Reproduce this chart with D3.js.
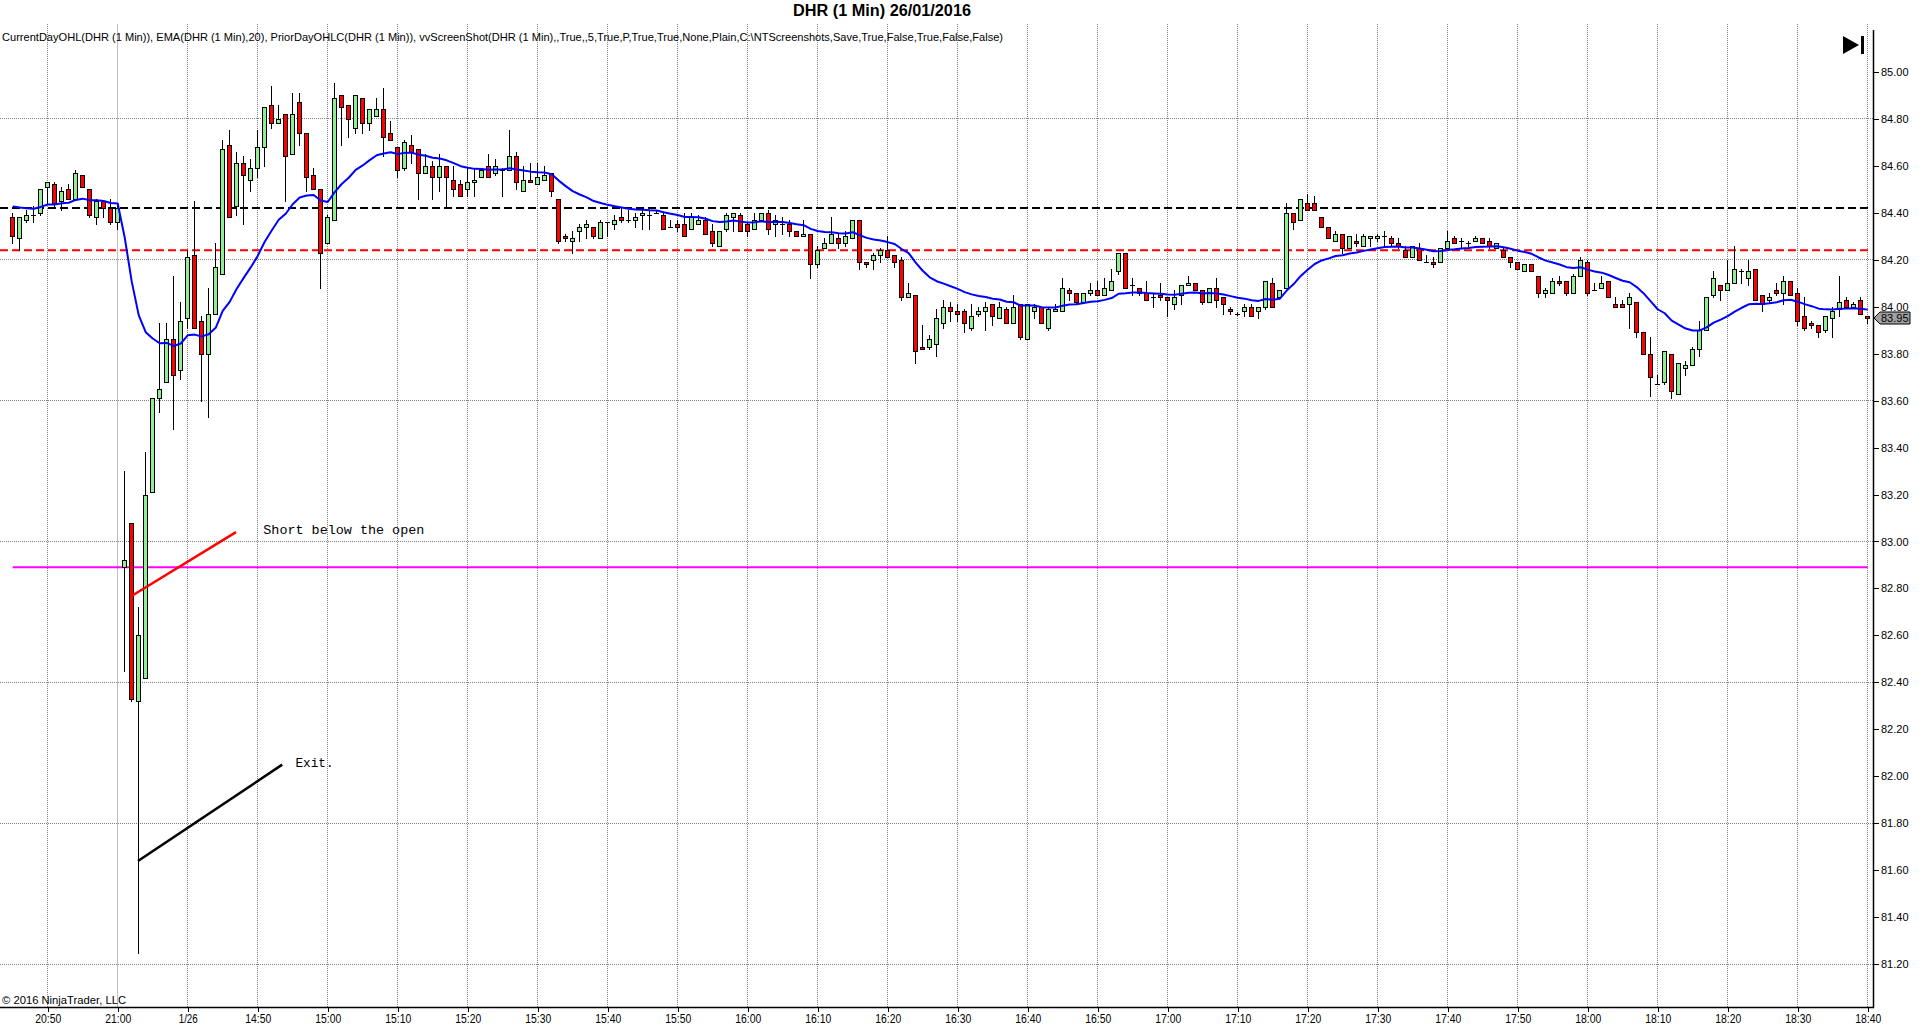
<!DOCTYPE html>
<html><head><meta charset="utf-8">
<script src="https://cdn.jsdelivr.net/npm/d3@7/dist/d3.min.js"></script>
<style>body{margin:0;background:#fff;overflow:hidden}svg{display:block}</style>
</head><body><svg id="c" width="1920" height="1034"></svg>
<script>
// ---- bar times (two sessions: prior day close, then 26/01) ----
function minuteRange(h0, m0, h1, m1) {
  const out = [];
  for (let t = h0 * 60 + m0; t <= h1 * 60 + m1; t++) {
    out.push(String(Math.floor(t / 60)).padStart(2, "0") + ":" + String(t % 60).padStart(2, "0"));
  }
  return out;
}
const times = minuteRange(20, 45, 21, 0).concat(minuteRange(14, 31, 18, 40));

// ---- OHLC values ----
const opens = [84.38,84.29,84.37,84.39,84.40,84.51,84.52,84.45,84.50,84.46,84.56,84.50,84.38,84.45,84.42,84.36,
82.89,83.08,82.32,82.42,83.21,83.61,83.68,83.86,83.73,83.95,84.22,83.94,83.80,83.97,84.14,84.69,84.43,84.61,84.54,84.59,84.68,84.86,84.78,84.82,
84.65,84.87,84.74,84.56,84.50,84.27,84.37,84.90,84.86,84.76,84.89,84.78,84.81,84.84,84.74,84.68,84.59,84.69,84.67,84.57,
84.60,84.55,84.60,84.54,84.52,84.50,84.53,84.55,84.60,84.57,84.58,84.58,84.64,84.49,84.54,84.52,84.54,84.57,84.46,84.30,
84.28,84.32,84.34,84.34,84.29,84.36,84.35,84.38,84.37,84.37,84.39,84.39,84.40,84.39,84.34,84.35,84.35,84.33,84.35,84.37,
84.32,84.26,84.33,84.38,84.39,84.35,84.33,84.37,84.40,84.35,84.35,84.35,84.32,84.30,84.31,84.18,84.25,84.27,84.29,84.27,
84.29,84.37,84.19,84.20,84.22,84.24,84.22,84.20,84.04,84.05,83.83,83.83,83.84,83.93,84.00,83.98,83.98,83.91,83.97,83.98,
84.01,83.95,83.99,83.93,84.01,83.86,83.98,84.00,83.91,83.98,83.98,84.07,84.06,84.02,84.06,84.07,84.05,84.07,84.15,84.23,
84.09,84.08,84.06,84.04,84.05,84.04,84.01,84.05,84.09,84.10,84.07,84.02,84.08,84.04,83.99,83.97,83.98,84.00,83.98,84.00,
84.10,84.04,84.08,84.40,84.37,84.44,84.44,84.38,84.34,84.28,84.31,84.25,84.28,84.26,84.29,84.29,84.30,84.29,84.27,84.24,
84.21,84.25,84.19,84.19,84.19,84.25,84.29,84.28,84.27,84.28,84.29,84.28,84.25,84.24,84.21,84.19,84.15,84.18,84.13,84.06,
84.06,84.11,84.11,84.06,84.13,84.19,84.07,84.08,84.11,84.01,84.01,84.01,84.02,83.89,83.80,83.67,83.68,83.80,83.63,83.74,
83.75,83.82,83.90,84.05,84.09,84.07,84.10,84.15,84.12,84.16,84.05,84.03,84.07,84.06,84.11,84.06,83.96,83.93,83.92,83.90,
83.95,83.99,84.03,84.00,84.03,83.96];
const highs = [84.40,84.38,84.41,84.43,84.50,84.53,84.53,84.51,84.52,84.58,84.56,84.50,84.46,84.45,84.46,84.44,
83.30,83.08,82.72,83.38,83.61,83.93,83.93,84.13,84.02,84.24,84.45,83.96,84.08,84.27,84.71,84.75,84.66,84.64,84.63,84.75,84.85,84.94,84.86,84.82,
84.91,84.91,84.74,84.59,84.50,84.39,84.95,84.90,84.86,84.90,84.89,84.84,84.89,84.93,84.79,84.68,84.71,84.73,84.67,84.65,
84.62,84.65,84.60,84.60,84.54,84.59,84.59,84.58,84.65,84.63,84.59,84.75,84.66,84.60,84.61,84.61,84.60,84.57,84.46,84.31,
84.32,84.35,84.37,84.34,84.37,84.36,84.39,84.42,84.41,84.40,84.41,84.41,84.41,84.40,84.37,84.37,84.40,84.40,84.39,84.38,
84.35,84.32,84.40,84.40,84.40,84.36,84.40,84.40,84.41,84.39,84.38,84.37,84.32,84.37,84.31,84.26,84.29,84.38,84.31,84.32,
84.37,84.37,84.19,84.23,84.25,84.30,84.22,84.21,84.10,84.05,83.92,83.88,83.99,84.03,84.02,84.01,83.99,84.01,84.00,84.02,
84.01,84.02,84.00,84.05,84.01,84.01,84.01,84.00,84.00,84.01,84.12,84.08,84.06,84.06,84.10,84.11,84.12,84.16,84.23,84.23,
84.12,84.08,84.11,84.06,84.10,84.04,84.07,84.09,84.13,84.10,84.07,84.08,84.12,84.04,84.00,83.975,84.01,84.01,84.00,84.11,
84.12,84.07,84.44,84.40,84.46,84.48,84.47,84.38,84.34,84.32,84.31,84.30,84.31,84.31,84.30,84.31,84.32,84.30,84.29,84.26,
84.26,84.27,84.22,84.21,84.25,84.32,84.30,84.29,84.28,84.30,84.29,84.29,84.27,84.25,84.21,84.19,84.18,84.18,84.13,84.08,
84.12,84.13,84.11,84.14,84.21,84.20,84.10,84.13,84.11,84.04,84.03,84.06,84.02,83.89,83.87,83.71,83.81,83.80,83.76,83.77,
83.83,83.94,84.04,84.15,84.09,84.20,84.26,84.16,84.20,84.16,84.05,84.06,84.10,84.13,84.11,84.08,84.04,83.94,83.92,83.96,
84.00,84.13,84.04,84.02,84.04,83.96];
const lows = [84.27,84.24,84.36,84.36,84.39,84.44,84.42,84.41,84.46,84.46,84.51,84.38,84.35,84.38,84.35,84.33,
82.45,82.32,81.25,82.42,83.21,83.55,83.68,83.48,83.69,83.91,83.91,83.60,83.53,83.97,84.14,84.38,84.39,84.35,84.49,84.55,84.60,84.76,84.78,84.45,
84.65,84.69,84.49,84.50,84.08,84.27,84.37,84.69,84.72,84.74,84.74,84.75,84.81,84.64,84.71,84.55,84.58,84.61,84.46,84.57,
84.46,84.49,84.42,84.47,84.47,84.47,84.47,84.55,84.55,84.56,84.47,84.58,84.50,84.49,84.53,84.52,84.54,84.47,84.27,84.28,
84.23,84.28,84.29,84.29,84.29,84.30,84.33,84.36,84.36,84.34,84.33,84.33,84.40,84.33,84.34,84.32,84.30,84.33,84.35,84.31,
84.26,84.26,84.32,84.32,84.32,84.30,84.33,84.37,84.31,84.30,84.31,84.30,84.30,84.30,84.12,84.17,84.25,84.27,84.25,84.26,
84.29,84.16,84.17,84.16,84.19,84.21,84.17,84.03,84.04,83.76,83.82,83.82,83.79,83.91,83.94,83.94,83.89,83.90,83.96,83.90,
83.92,83.95,83.93,83.93,83.86,83.86,83.95,83.93,83.90,83.98,83.98,84.03,84.01,84.02,84.05,84.05,84.05,84.07,84.14,84.08,
84.05,84.05,84.03,84.00,84.03,83.96,83.99,84.01,84.09,84.07,84.01,84.02,84.00,83.97,83.97,83.965,83.96,83.96,83.95,83.99,
84.00,84.04,84.08,84.33,84.37,84.41,84.41,84.34,84.29,84.28,84.23,84.25,84.26,84.26,84.26,84.28,84.26,84.26,84.25,84.21,
84.21,84.20,84.19,84.17,84.19,84.25,84.27,84.25,84.26,84.28,84.27,84.25,84.25,84.21,84.17,84.16,84.15,84.15,84.04,84.04,
84.06,84.09,84.05,84.06,84.13,84.05,84.07,84.08,84.04,84.00,84.00,83.91,83.87,83.80,83.62,83.67,83.67,83.61,83.63,83.71,
83.75,83.79,83.90,84.04,84.03,84.07,84.10,84.10,84.09,84.03,83.98,84.02,84.05,84.01,84.05,83.92,83.90,83.91,83.87,83.89,
83.87,83.96,84.00,84.00,83.97,83.93];
const closes = [84.30,84.38,84.39,84.39,84.50,84.53,84.44,84.49,84.46,84.57,84.51,84.39,84.45,84.42,84.36,84.42,
82.92,82.33,82.60,83.20,83.61,83.65,83.86,83.71,83.94,84.21,83.91,83.80,83.97,84.17,84.67,84.38,84.61,84.56,84.59,84.68,84.85,84.78,84.80,84.64,
84.82,84.74,84.55,84.50,84.23,84.38,84.89,84.85,84.80,84.90,84.78,84.84,84.84,84.72,84.71,84.58,84.70,84.66,84.57,84.60,
84.55,84.60,84.55,84.50,84.47,84.53,84.54,84.58,84.55,84.60,84.58,84.64,84.53,84.54,84.53,84.55,84.56,84.49,84.28,84.29,
84.29,84.34,84.35,84.30,84.36,84.36,84.37,84.37,84.37,84.38,84.40,84.39,84.40,84.33,84.34,84.34,84.30,84.38,84.37,84.31,
84.27,84.32,84.39,84.40,84.32,84.32,84.37,84.40,84.33,84.37,84.35,84.32,84.30,84.31,84.18,84.24,84.27,84.31,84.27,84.30,
84.37,84.19,84.18,84.22,84.24,84.21,84.19,84.04,84.06,83.81,83.82,83.86,83.95,84.00,83.98,83.97,83.93,83.96,83.98,84.00,
83.96,84.00,83.93,84.00,83.87,84.01,84.00,83.93,83.99,83.99,84.08,84.06,84.02,84.06,84.07,84.05,84.08,84.11,84.23,84.08,
84.09,84.06,84.03,84.04,84.04,84.03,84.04,84.09,84.10,84.07,84.02,84.08,84.03,84.01,83.98,83.97,84.00,83.96,84.00,84.11,
84.00,84.07,84.40,84.36,84.46,84.41,84.41,84.34,84.29,84.31,84.25,84.30,84.27,84.30,84.30,84.30,84.30,84.27,84.26,84.21,
84.26,84.20,84.19,84.18,84.25,84.28,84.27,84.28,84.27,84.29,84.27,84.26,84.27,84.21,84.19,84.16,84.18,84.15,84.06,84.07,
84.11,84.10,84.06,84.13,84.20,84.06,84.07,84.10,84.04,84.00,84.00,84.04,83.89,83.80,83.70,83.67,83.81,83.64,83.76,83.75,
83.82,83.90,84.04,84.12,84.07,84.10,84.16,84.15,84.15,84.03,84.01,84.04,84.06,84.11,84.05,83.94,83.91,83.92,83.89,83.96,
83.98,84.02,84.00,84.01,83.97,83.95];

// ---- axis ticks / labels ----
const tickTimes  = ["20:50","21:00","14:40","14:50","15:00","15:10","15:20","15:30","15:40","15:50","16:00","16:10","16:20","16:30",
                    "16:40","16:50","17:00","17:10","17:20","17:30","17:40","17:50","18:00","18:10","18:20","18:30","18:40"];
const tickLabels = ["20:50","21:00","1/26","14:50","15:00","15:10","15:20","15:30","15:40","15:50","16:00","16:10","16:20","16:30",
                    "16:40","16:50","17:00","17:10","17:20","17:30","17:40","17:50","18:00","18:10","18:20","18:30","18:40"];
const sessionBreakTime = "21:00";
const priceTicks = [81.2,81.4,81.6,81.8,82.0,82.2,82.4,82.6,82.8,83.0,83.2,83.4,83.6,83.8,84.0,84.2,84.4,84.6,84.8,85.0];
const priceGrid  = [81.2,81.8,82.4,83.0,83.6,84.2,84.8];

// ---- indicator levels ----
const priorDayLevelBlack = 84.42;
const priorDayLevelRed = 84.24;
const currentDayOpen = 82.89;
const lastPrice = 83.95;
const emaPeriod = 20;
const emaStartValue = 84.44;

// ---- drawn annotations (bar index, price) ----
const annotationLines = [
  {from: [17.1, 82.77], to: [31.9, 83.04], color: "#ff0000"},
  {from: [17.9, 81.64], to: [38.5, 82.05], color: "#000000"}
];
const annotationTexts = [
  {at: [35.8, 83.03], text: "Short below the open", width: 161},
  {at: [40.4, 82.04], text: "Exit.", width: 38}
];

// ------------------------------------------------------------------
const axisX = 1873, axisBottom = 1007, plotTop = 24;
const svg = d3.select("#c");
const n = times.length;

const x = d3.scaleLinear().domain([0, n - 1]).range([12.7, 1867.7]);
const xt = d3.scalePoint().domain(times).range([12.7, 1867.7]);
const y = d3.scaleLinear().domain([81.2, 85.0]).range([964.3, 71.7]);
const px = v => Math.floor(v) + 0.5;

// EMA(20) of the closes
const alpha = 2 / (emaPeriod + 1);
const ema = [];
let prev = emaStartValue;
closes.forEach(c => { prev = prev + alpha * (c - prev); ema.push(prev); });

// grid
const g = svg.append("g");
g.selectAll(".hg").data(priceGrid).join("line")
  .attr("x1", 0).attr("x2", axisX).attr("y1", d => px(y(d))).attr("y2", d => px(y(d)))
  .attr("stroke", "#808080").attr("stroke-dasharray", "1,1");
g.selectAll(".vg").data(tickTimes.filter(t => t !== sessionBreakTime)).join("line")
  .attr("x1", d => px(xt(d))).attr("x2", d => px(xt(d))).attr("y1", plotTop).attr("y2", axisBottom)
  .attr("stroke", "#808080").attr("stroke-dasharray", "1,1");
g.append("line").attr("x1", px(xt(sessionBreakTime))).attr("x2", px(xt(sessionBreakTime)))
  .attr("y1", plotTop).attr("y2", axisBottom).attr("stroke", "#c0c0c0");

// level lines
svg.append("line").attr("x1", 0).attr("x2", 1871).attr("y1", y(priorDayLevelBlack)).attr("y2", y(priorDayLevelBlack))
  .attr("stroke", "#000").attr("stroke-width", 2).attr("stroke-dasharray", "8,4");
svg.append("line").attr("x1", 0).attr("x2", 1871).attr("y1", y(priorDayLevelRed)).attr("y2", y(priorDayLevelRed))
  .attr("stroke", "#ff0000").attr("stroke-width", 2).attr("stroke-dasharray", "8,4");
svg.append("line").attr("x1", x(0)).attr("x2", x(n - 1)).attr("y1", y(currentDayOpen)).attr("y2", y(currentDayOpen))
  .attr("stroke", "#ff00ff").attr("stroke-width", 2);

// candles
const bars = times.map((t, i) => ({t, i, o: opens[i], h: highs[i], l: lows[i], c: closes[i]}));
const cg = svg.append("g").attr("shape-rendering", "crispEdges");
cg.selectAll(".wick").data(bars).join("line")
  .attr("x1", d => px(xt(d.t))).attr("x2", d => px(xt(d.t)))
  .attr("y1", d => Math.round(y(d.h))).attr("y2", d => Math.round(y(d.l)) + 1)
  .attr("stroke", "#000");
cg.selectAll(".body").data(bars.filter(d => Math.abs(Math.round(y(d.o)) - Math.round(y(d.c))) >= 1)).join("rect")
  .attr("x", d => Math.floor(xt(d.t)) - 1.5)
  .attr("width", 4)
  .attr("y", d => Math.round(y(Math.max(d.o, d.c))) + 0.5)
  .attr("height", d => Math.round(y(Math.min(d.o, d.c))) - Math.round(y(Math.max(d.o, d.c))))
  .attr("fill", d => d.c >= d.o ? "#90ee90" : "#ff0000")
  .attr("stroke", "#000");
cg.selectAll(".doji").data(bars.filter(d => Math.abs(Math.round(y(d.o)) - Math.round(y(d.c))) < 1)).join("line")
  .attr("x1", d => Math.floor(xt(d.t)) - 2).attr("x2", d => Math.floor(xt(d.t)) + 3)
  .attr("y1", d => Math.round(y(d.c)) + 0.5).attr("y2", d => Math.round(y(d.c)) + 0.5)
  .attr("stroke", "#000");

// EMA line
svg.append("path").datum(ema)
  .attr("d", d3.line().x((d, i) => x(i)).y(d => y(d)))
  .attr("fill", "none").attr("stroke", "#0000ff").attr("stroke-width", 2).attr("stroke-linejoin", "round");

// annotations
svg.selectAll(".ann").data(annotationLines).join("line")
  .attr("x1", d => x(d.from[0])).attr("y1", d => y(d.from[1]))
  .attr("x2", d => x(d.to[0])).attr("y2", d => y(d.to[1]))
  .attr("stroke", d => d.color).attr("stroke-width", 2.5);
svg.selectAll(".annt").data(annotationTexts).join("text")
  .attr("x", d => x(d.at[0])).attr("y", d => y(d.at[1]))
  .attr("font-family", "'Liberation Mono','Courier New',monospace").attr("font-size", 13)
  .attr("textLength", d => d.width).attr("lengthAdjust", "spacingAndGlyphs")
  .attr("fill", "#000").text(d => d.text);

// right axis
const ra = svg.append("g").attr("transform", `translate(${axisX},0)`)
  .call(d3.axisRight(y).tickValues(priceTicks).tickFormat(d3.format(".2f")).tickSize(6).tickSizeOuter(0).tickPadding(2));
ra.select(".domain").remove();
ra.selectAll("text").attr("font-family", "'Liberation Sans',Arial,sans-serif").attr("font-size", 11).attr("fill", "#000");
ra.selectAll(".tick line").attr("stroke", "#000").attr("shape-rendering", "crispEdges");
svg.append("line").attr("x1", axisX + 0.5).attr("x2", axisX + 0.5).attr("y1", 30).attr("y2", axisBottom + 1)
  .attr("stroke", "#000").attr("stroke-width", 1.5);

// bottom axis
const ba = svg.append("g").attr("transform", `translate(0,${axisBottom})`)
  .call(d3.axisBottom(xt).tickValues(tickTimes).tickFormat((d, i) => tickLabels[i]).tickSize(5).tickSizeOuter(0).tickPadding(2));
ba.select(".domain").remove();
ba.selectAll(".tick line").attr("stroke", "#000").attr("shape-rendering", "crispEdges")
  .attr("transform", "translate(0.5,0)");
ba.selectAll("text").attr("font-family", "'Liberation Sans Narrow','Liberation Sans',Arial,sans-serif")
  .attr("font-size", 12).attr("fill", "#000")
  .attr("textLength", function () { return this.textContent.length >= 5 ? 26 : 19; })
  .attr("lengthAdjust", "spacingAndGlyphs");
svg.append("line").attr("x1", 0).attr("x2", axisX + 1).attr("y1", axisBottom + 0.5).attr("y2", axisBottom + 0.5)
  .attr("stroke", "#000").attr("stroke-width", 1.5);

// last price marker
const ly = Math.round(y(lastPrice));
svg.append("path")
  .attr("d", `M${axisX + 1},${ly} L${axisX + 7},${ly - 6} L${axisX + 37},${ly - 6} L${axisX + 37},${ly + 6} L${axisX + 7},${ly + 6} Z`)
  .attr("fill", "#a0a0a0").attr("stroke", "#000");
svg.append("text").attr("x", axisX + 8).attr("y", ly + 4)
  .attr("font-family", "'Liberation Sans',Arial,sans-serif").attr("font-size", 11).attr("fill", "#000")
  .text(d3.format(".2f")(lastPrice));

// play icon
svg.append("path").attr("d", "M1843,36 L1859,45 L1843,54 Z").attr("fill", "#000");
svg.append("rect").attr("x", 1861).attr("y", 36).attr("width", 3).attr("height", 18).attr("fill", "#000");

// texts
svg.append("text").attr("x", 882).attr("y", 16).attr("text-anchor", "middle")
  .attr("font-family", "'Liberation Sans Narrow','Liberation Sans',Arial,sans-serif").attr("font-weight", "bold")
  .attr("font-size", 16).attr("textLength", 178).attr("lengthAdjust", "spacingAndGlyphs")
  .text("DHR (1 Min)  26/01/2016");
svg.append("text").attr("x", 2).attr("y", 41)
  .attr("font-family", "'Liberation Sans Narrow','Liberation Sans',Arial,sans-serif")
  .attr("font-size", 11.5).attr("textLength", 1001).attr("lengthAdjust", "spacingAndGlyphs")
  .text("CurrentDayOHL(DHR (1 Min)), EMA(DHR (1 Min),20), PriorDayOHLC(DHR (1 Min)), vvScreenShot(DHR (1 Min),,True,,5,True,P,True,True,None,Plain,C:\\NTScreenshots,Save,True,False,True,False,False)");
svg.append("text").attr("x", 2).attr("y", 1004)
  .attr("font-family", "'Liberation Sans Narrow','Liberation Sans',Arial,sans-serif")
  .attr("font-size", 11.5).attr("textLength", 124).attr("lengthAdjust", "spacingAndGlyphs")
  .text("© 2016 NinjaTrader, LLC");
</script></body></html>
